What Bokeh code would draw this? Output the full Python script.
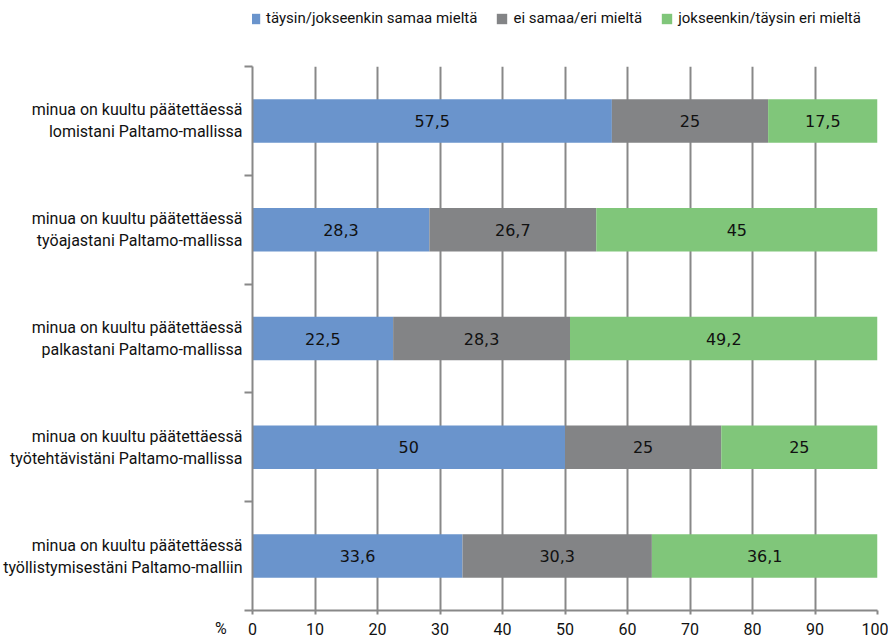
from bokeh.plotting import figure
from bokeh.layouts import column
from bokeh.models import (ColumnDataSource, Legend, LegendItem, FixedTicker, LabelSet,
                          LinearAxis)
from bokeh.core.properties import value
from bokeh.embed import file_html
from bokeh.resources import INLINE

categories = [
    "minua on kuultu päätettäessä\nlomistani Paltamo-mallissa",
    "minua on kuultu päätettäessä\ntyöajastani Paltamo-mallissa",
    "minua on kuultu päätettäessä\npalkastani Paltamo-mallissa",
    "minua on kuultu päätettäessä\ntyötehtävistäni Paltamo-mallissa",
    "minua on kuultu päätettäessä\ntyöllistymisestäni Paltamo-malliin",
]
series_names = ["täysin/jokseenkin samaa mieltä", "ei samaa/eri mieltä", "jokseenkin/täysin eri mieltä"]
agree = [57.5, 28.3, 22.5, 50, 33.6]
neutral = [25, 26.7, 28.3, 25, 30.3]
disagree = [17.5, 45, 49.2, 25, 36.1]
x_ticks = [0, 10, 20, 30, 40, 50, 60, 70, 80, 90, 100]
unit_label = "%"

colors = ["#6A94CC", "#838486", "#80C67A"]
FONT = "Roboto"

n = len(categories)
ypos = [n - i - 0.5 for i in range(n)]

p = figure(frame_width=625, frame_height=544, x_range=(0, 100), y_range=(0, n),
           output_backend="svg", toolbar_location=None,
           min_border_left=252, min_border_right=11, min_border_top=10, min_border_bottom=0)
p.outline_line_color = None
p.background_fill_color = "white"

# legend strip above the chart (its frame aligns with the chart's frame)
lg = figure(width=890, height=56, x_range=(0, 100), y_range=(1000, 1001),
            output_backend="svg", toolbar_location=None,
            min_border_left=0, min_border_right=0, min_border_top=0, min_border_bottom=0)
lg.axis.visible = False
lg.grid.visible = False
lg.outline_line_color = None

series = [agree, neutral, disagree]
lefts = [0] * n
items = []
for k, vals in enumerate(series):
    rights = [l + v for l, v in zip(lefts, vals)]
    src = ColumnDataSource(dict(y=ypos, left=lefts, right=rights,
                                mid=[(l + r) / 2 for l, r in zip(lefts, rights)],
                                lab=[str(v).replace(".", ",") for v in vals]))
    p.hbar(y="y", left="left", right="right", height=0.4, source=src,
           fill_color=colors[k], line_color=None)
    p.add_layout(LabelSet(x="mid", y="y", text="lab", source=src, text_align="center",
                          text_baseline="middle", text_font=value("DejaVu Sans"),
                          text_font_size=value("16px"), text_color="#111111"))
    # same data, out of the strip's view: only used for its legend swatch
    r = lg.hbar(y="y", left="left", right="right", height=0.4, source=src,
                fill_color=colors[k], line_color=None)
    items.append(LegendItem(label=series_names[k], renderers=[r]))
    lefts = rights

# axes
p.xaxis.ticker = FixedTicker(ticks=x_ticks)
p.xaxis.axis_line_color = "#888888"
p.xaxis.axis_line_width = 2
p.xaxis.major_tick_line_color = "#888888"
p.xaxis.major_tick_line_width = 2
p.xaxis.major_tick_out = 4
p.xaxis.major_tick_in = 0
p.xaxis.minor_tick_line_color = None
p.xaxis.major_label_text_font = FONT
p.xaxis.major_label_text_font_size = "16px"
p.xaxis.major_label_text_color = "#111111"
p.xaxis.major_label_standoff = 8

p.yaxis.ticker = FixedTicker(ticks=list(range(n + 1)))
p.yaxis.major_label_overrides = {i: "" for i in range(n + 1)}
p.yaxis.axis_line_color = "#888888"
p.yaxis.axis_line_width = 2
p.yaxis.major_tick_line_color = "#888888"
p.yaxis.major_tick_line_width = 2
p.yaxis.major_tick_out = 8
p.yaxis.major_tick_in = 0
p.yaxis.minor_tick_line_color = None
p.yaxis.major_label_standoff = 0

overrides = {yc: c for yc, c in zip(ypos, categories)}
overrides[0] = "\n\n" + unit_label + "\u00a0\u00a0\u00a0\u00a0"
cat_axis = LinearAxis(ticker=FixedTicker(ticks=ypos + [0]),
                      major_label_overrides=overrides,
                      axis_line_color=None, major_tick_line_color=None, minor_tick_line_color=None,
                      major_tick_in=0, major_tick_out=0, major_label_standoff=2,
                      major_label_text_font=FONT, major_label_text_font_size="16px",
                      major_label_text_color="#111111", major_label_text_line_height=1.15)
p.add_layout(cat_axis, "left")

p.xgrid.ticker = FixedTicker(ticks=x_ticks)
p.xgrid.grid_line_color = "#888888"
p.xgrid.grid_line_width = 2
p.ygrid.grid_line_color = None

legend = Legend(items=items, orientation="horizontal", location=(-4, 29),
                glyph_width=13, glyph_height=13, label_standoff=5, spacing=18,
                padding=0, margin=0, border_line_color=None, background_fill_alpha=0,
                label_text_font=FONT, label_text_font_size="15px", label_text_color="#111111")
lg.add_layout(legend, "center")

layout = column(lg, p, spacing=0)
open("out.html", "w").write(file_html(layout, INLINE))
